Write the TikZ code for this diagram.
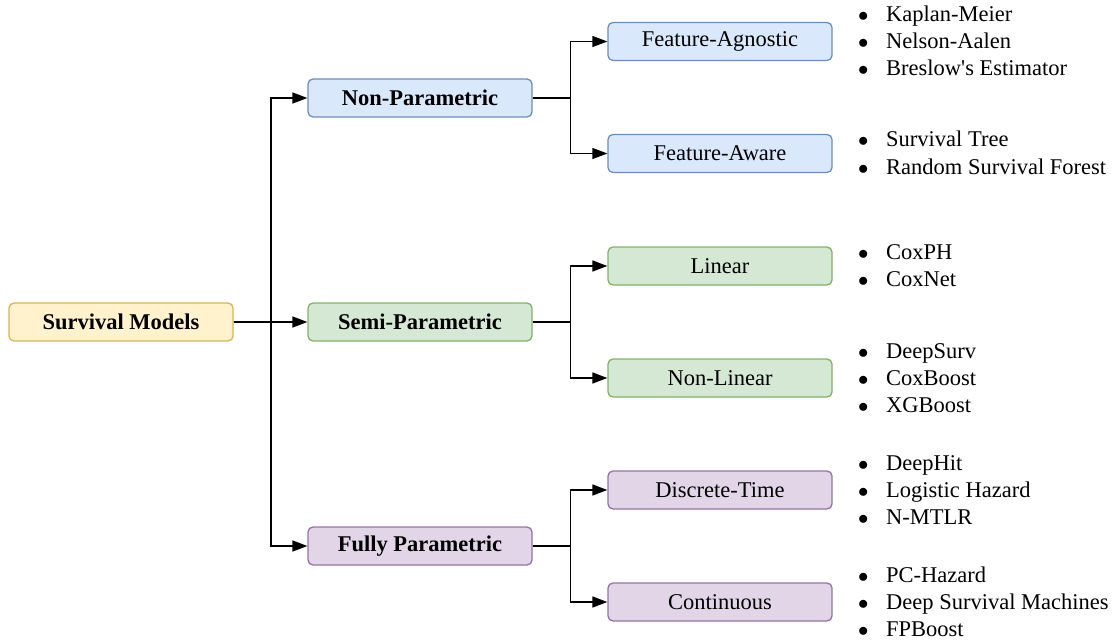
\documentclass[tikz,border=0pt]{standalone}
\usepackage{fontspec}
\setmainfont{Liberation Serif}
\usetikzlibrary{arrows.meta}

\definecolor{rootfill}{HTML}{FFF2CC}\definecolor{rootdraw}{HTML}{D6B656}
\definecolor{bluefill}{HTML}{DAE8FC}\definecolor{bluedraw}{HTML}{6C8EBF}
\definecolor{greenfill}{HTML}{D5E8D4}\definecolor{greendraw}{HTML}{82B366}
\definecolor{purplefill}{HTML}{E1D5E7}\definecolor{purpledraw}{HTML}{9673A6}

\begin{document}
\begin{tikzpicture}[x=1pt,y=-1pt,
  box/.style={rounded corners=5pt, line width=1.3pt, minimum width=224pt,
    minimum height=38pt, inner sep=0pt, font=\fontsize{22.5}{27}\selectfont},
  bold/.style={font=\fontsize{22.5}{27}\selectfont\bfseries},
  root/.style={box, bold, fill=rootfill, draw=rootdraw},
  blue/.style={box, fill=bluefill, draw=bluedraw},
  green/.style={box, fill=greenfill, draw=greendraw},
  purple/.style={box, fill=purplefill, draw=purpledraw},
  link/.style={line width=1.4pt, -{Triangle[length=15pt,width=11pt]}},
  item/.style={anchor=base west, inner sep=0pt, font=\fontsize{22.5}{27}\selectfont}]

\useasboundingbox (0,0) rectangle (1115,644);

% root and first level
\node[root] (sm) at (121,322) {Survival Models};
\node[blue, bold]   (np) at (420,98)  {Non-Parametric};
\node[green, bold]  (sp) at (420,322) {Semi-Parametric};
\node[purple, bold] (fp) at (420,546) {Fully Parametric};

% second level
\node[blue]   (fag) at (720,41.5)  {Feature-Agnostic};
\node[blue]   (faw) at (720,153.5) {Feature-Aware};
\node[green]  (lin) at (720,266)   {Linear};
\node[green]  (nlin) at (720,378)  {Non-Linear};
\node[purple] (dt) at (720,490)    {Discrete-Time};
\node[purple] (ct) at (720,602)    {Continuous};

% trunk from the root
\coordinate (trunk) at (271,322);
\draw[link] (sm.east) -- (sp.west);
\draw[link] (sm.east) -- (trunk) |- (np.west);
\draw[link] (sm.east) -- (trunk) |- (fp.west);

% branches to the second level
\foreach \p/\a/\b in {np/fag/faw, sp/lin/nlin, fp/dt/ct}{
  \coordinate (\p-split) at ([xshift=38pt]\p.east);
  \draw[link] (\p.east) -- (\p-split) |- (\a.west);
  \draw[link] (\p.east) -- (\p-split) |- (\b.west);
}

% bulleted method lists
\newcommand{\bul}[1]{\makebox[28pt][l]{$\bullet$}#1}
\foreach \n/\y/\t in {
  km/21.5/Kaplan-Meier, na/48.5/Nelson-Aalen, br/75.5/Breslow\textquotesingle s Estimator,
  st/147/Survival Tree, rsf/174.5/Random Survival Forest,
  cph/259/CoxPH, cnet/286.5/CoxNet,
  ds/358/DeepSurv, cb/385/CoxBoost, xgb/412/XGBoost,
  dh/470/DeepHit, lh/497/Logistic Hazard, nm/524/N-MTLR,
  pch/582/PC-Hazard, dsm/609/Deep Survival Machines, fpb/636/FPBoost}{
  \node[item] (\n) at (858,\y) {\bul{\t}};
}
\end{tikzpicture}
\end{document}
